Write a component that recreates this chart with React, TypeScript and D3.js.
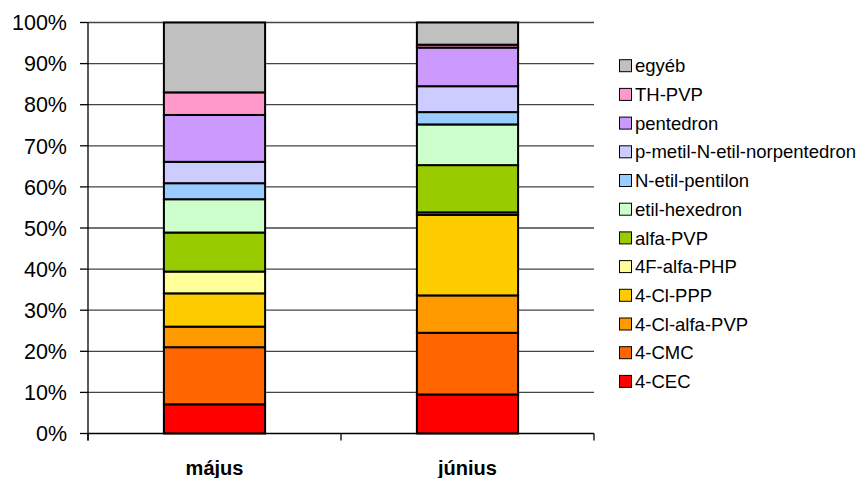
import React, { useEffect, useRef } from 'react';
import * as d3 from 'd3';

// categories (months) and series names, bottom to top of the stack
const categories = ['május', 'június'];
const seriesNames = [
  '4-CEC',
  '4-CMC',
  '4-Cl-alfa-PVP',
  '4-Cl-PPP',
  '4F-alfa-PHP',
  'alfa-PVP',
  'etil-hexedron',
  'N-etil-pentilon',
  'p-metil-N-etil-norpentedron',
  'pentedron',
  'TH-PVP',
  'egyéb',
];
// share (%) per series, same order as seriesNames
const majusValues = [7.1, 13.9, 5.0, 8.1, 5.3, 9.5, 8.1, 3.9, 5.2, 11.4, 5.5, 17.0];
const juniusValues = [9.5, 15.0, 9.1, 19.6, 0.6, 11.5, 9.9, 3.0, 6.3, 9.4, 0.7, 5.4];
const yTicks = [0, 10, 20, 30, 40, 50, 60, 70, 80, 90, 100];

const seriesColors = [
  '#FF0000',
  '#FF6600',
  '#FF9900',
  '#FFCC00',
  '#FFFF99',
  '#99CC00',
  '#CCFFCC',
  '#99CCFF',
  '#CCCCFF',
  '#CC99FF',
  '#FF99CC',
  '#C0C0C0',
];

const App: React.FC = () => {
  const svgRef = useRef<SVGSVGElement>(null);

  useEffect(() => {
    if (!svgRef.current) return;
    const root = d3.select(svgRef.current);
    root.selectAll('*').remove();

    const width = 859;
    const height = 478;
    const margin = { top: 22.5, left: 88, right: 265, bottom: 44.5 };
    const plotW = width - margin.left - margin.right;
    const plotH = height - margin.top - margin.bottom;

    const svg = root
      .attr('width', width)
      .attr('height', height)
      .append('g')
      .attr('transform', `translate(${margin.left},${margin.top})`);

    const rows = categories.map((c, i) => {
      const vals = i === 0 ? majusValues : juniusValues;
      const row: Record<string, any> = { category: c };
      seriesNames.forEach((s, j) => (row[s] = vals[j]));
      return row;
    });

    const x = d3.scaleBand().domain(categories).range([0, plotW]).paddingInner(0).paddingOuter(0);
    const y = d3.scaleLinear().domain([0, 100]).range([plotH, 0]);
    const barW = x.bandwidth() * 0.4;

    // gridlines
    svg.append('g')
      .selectAll('line')
      .data(yTicks.filter(t => t > 0))
      .enter()
      .append('line')
      .attr('x1', 0)
      .attr('x2', plotW)
      .attr('y1', d => y(d))
      .attr('y2', d => y(d))
      .attr('stroke', '#444')
      .attr('stroke-width', 1.3);

    // stacked bars
    const stack = d3.stack<any>().keys(seriesNames);
    const layers = stack(rows);
    layers.forEach((layer, i) => {
      svg.append('g')
        .selectAll('rect')
        .data(layer)
        .enter()
        .append('rect')
        .attr('x', d => (x(d.data.category) as number) + (x.bandwidth() - barW) / 2)
        .attr('width', barW)
        .attr('y', d => y(d[1]))
        .attr('height', d => y(d[0]) - y(d[1]))
        .attr('fill', seriesColors[i])
        .attr('stroke', '#000')
        .attr('stroke-width', 2);
    });

    // y axis
    svg.append('line')
      .attr('x1', 0).attr('x2', 0)
      .attr('y1', 0).attr('y2', plotH + 7)
      .attr('stroke', '#000').attr('stroke-width', 1.3);
    svg.append('line')
      .attr('x1', 0).attr('x2', plotW)
      .attr('y1', plotH).attr('y2', plotH)
      .attr('stroke', '#000').attr('stroke-width', 1.3);

    svg.append('g')
      .selectAll('line')
      .data(yTicks)
      .enter()
      .append('line')
      .attr('x1', -8).attr('x2', 0)
      .attr('y1', d => y(d)).attr('y2', d => y(d))
      .attr('stroke', '#000').attr('stroke-width', 1.3);

    svg.append('g')
      .selectAll('text')
      .data(yTicks)
      .enter()
      .append('text')
      .attr('x', -21)
      .attr('y', d => y(d))
      .attr('dy', '0.36em')
      .attr('text-anchor', 'end')
      .style('font-family', 'Liberation Sans, Arial, sans-serif')
      .style('font-size', '21.5px')
      .attr('fill', '#000')
      .text(d => `${d}%`);

    // x ticks at category boundaries
    const bounds = [0, ...categories.map(c => (x(c) as number) + x.bandwidth())];
    svg.append('g')
      .selectAll('line')
      .data(bounds)
      .enter()
      .append('line')
      .attr('x1', d => d).attr('x2', d => d)
      .attr('y1', plotH).attr('y2', plotH + 7)
      .attr('stroke', '#000').attr('stroke-width', 1.3);

    svg.append('g')
      .selectAll('text')
      .data(categories)
      .enter()
      .append('text')
      .attr('x', d => (x(d) as number) + x.bandwidth() / 2)
      .attr('y', plotH + 41)
      .attr('text-anchor', 'middle')
      .style('font-family', 'Liberation Sans, Arial, sans-serif')
      .style('font-size', '20px')
      .style('font-weight', 'bold')
      .attr('fill', '#000')
      .text(d => d);

    // legend (top to bottom: reverse of stack order)
    const legend = root.append('g').attr('transform', 'translate(619,0)');
    const legendItems = seriesNames.map((s, i) => ({ name: s, color: seriesColors[i] })).reverse();
    legendItems.forEach((item, i) => {
      const cy = 65.7 + i * 28.7;
      legend.append('rect')
        .attr('x', 0.5)
        .attr('y', cy - 6)
        .attr('width', 12)
        .attr('height', 12)
        .attr('fill', item.color)
        .attr('stroke', '#000')
        .attr('stroke-width', 1);
      legend.append('text')
        .attr('x', 16)
        .attr('y', cy)
        .attr('dy', '0.36em')
        .style('font-family', 'Liberation Sans, Arial, sans-serif')
        .style('font-size', '18.5px')
        .attr('fill', '#000')
        .text(item.name);
    });
  }, []);

  return (
    <svg
      ref={svgRef}
      style={{ position: 'absolute', left: 0, top: 0, background: '#fff' }}
    ></svg>
  );
};

export default App;
